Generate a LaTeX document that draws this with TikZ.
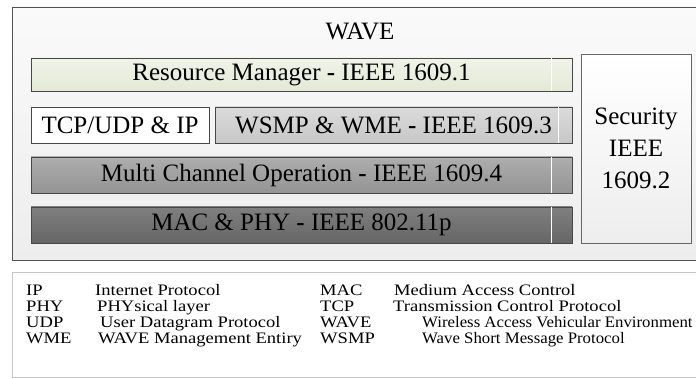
\documentclass[tikz,border=0pt]{standalone}
\usepackage{fontspec}
\setmainfont{Liberation Serif}
\newfontfamily\legendfont[FakeStretch=1.16]{Liberation Serif}
\newfontfamily\legendnarrow[FakeStretch=1.05]{Liberation Serif}
\usepackage{tikz}
\usetikzlibrary{positioning}
\definecolor{rmgreen}{HTML}{E4E9D6}
\tikzset{layer/.style={draw=black!72,line width=0.8pt,inner sep=0pt,minimum height=36pt,font=\fontsize{25}{30}\selectfont}}
\tikzset{sepline/.style={draw=white,line width=1pt}}
\tikzset{abbr/.style={anchor=base west,inner sep=0pt,font=\legendfont\fontsize{16}{16}\selectfont}}
\tikzset{abbrnarrow/.style={abbr,font=\legendnarrow\fontsize{16}{16}\selectfont}}

\begin{document}
\begin{tikzpicture}[x=1pt,y=-1pt]
          \useasboundingbox[fill=white] (0,0) rectangle (696,379);
          % WAVE frame and legend frame
          \path[draw=black!68,line width=0.8pt,top color=black!2,bottom color=black!7] (12,7) rectangle (720,260);
          \path[draw=black!22,line width=0.8pt,fill=white] (12,272) rectangle (720,377);
          \node[font=\fontsize{25}{30}\selectfont] (wave) at (360,31) {WAVE};
          \node[layer,top color=rmgreen!55,bottom color=rmgreen,minimum width=541pt,minimum height=33pt] (rm) at (301.5,74.5) {Resource Manager \textbf{-} IEEE 1609.1};
          \node[layer,fill=white,minimum width=178pt] (tcp) at (120,125) {TCP/UDP \& IP};
          \node[layer,top color=black!14,bottom color=black!22,minimum width=357pt] (wsmp) at (393.5,125) {WSMP \& WME \textbf{-} IEEE 1609.3};
          \node[layer,top color=black!32,bottom color=black!42,minimum width=541pt] (mco) at (301.5,175) {Multi Channel Operation \textbf{-} IEEE 1609.4};
          \node[layer,top color=black!50,bottom color=black!60,minimum width=541pt] (mac) at (301.5,225) {MAC \& PHY \textbf{-} IEEE 802.11p};
          \node[layer,draw=black!60,top color=white,bottom color=black!7,minimum width=110pt,minimum height=189pt,align=center,font=\fontsize{25}{32}\selectfont] (sec) at (636,148.5) {Security\\IEEE\\1609.2};
          % light bands at the right end of the bars
          \draw[sepline] ([xshift=-21pt,yshift=-0.8pt]rm.north east) -- ([xshift=-21pt,yshift=0.8pt]rm.south east);
          \draw[sepline] ([xshift=-14pt,yshift=-0.8pt]wsmp.north east) -- ([xshift=-14pt,yshift=0.8pt]wsmp.south east);
          \draw[sepline] ([xshift=-21pt,yshift=-0.8pt]mco.north east) -- ([xshift=-21pt,yshift=0.8pt]mco.south east);
          \draw[sepline] ([xshift=-21pt,yshift=-0.8pt]mac.north east) -- ([xshift=-21pt,yshift=0.8pt]mac.south east);
          % legend
          \node[abbr] (ip) at (26,296) {IP};
          \node[abbr] (ipd) at (95,296) {Internet Protocol};
          \node[abbr] (phy) at (26,312) {PHY};
          \node[abbr] (phyd) at (97,312) {PHYsical layer};
          \node[abbr] (udp) at (26,327) {UDP};
          \node[abbr] (udpd) at (100,327) {User Datagram Protocol};
          \node[abbr] (wme) at (26,343) {WME};
          \node[abbr] (wmed) at (98,343) {WAVE Management Entiry};
          \node[abbr] (macl) at (320,296) {MAC};
          \node[abbr] (macd) at (394,296) {Medium Access Control};
          \node[abbr] (tcpl) at (320,312) {TCP};
          \node[abbr] (tcpd) at (393,312) {Transmission Control Protocol};
          \node[abbr] (wavel) at (320,327) {WAVE};
          \node[abbrnarrow] (waved) at (422,327) {Wireless Access Vehicular Environment};
          \node[abbr] (wsmpl) at (320,343) {WSMP};
          \node[abbrnarrow] (wsmpd) at (422,343) {Wave Short Message Protocol};
        \end{tikzpicture}
\end{document}
